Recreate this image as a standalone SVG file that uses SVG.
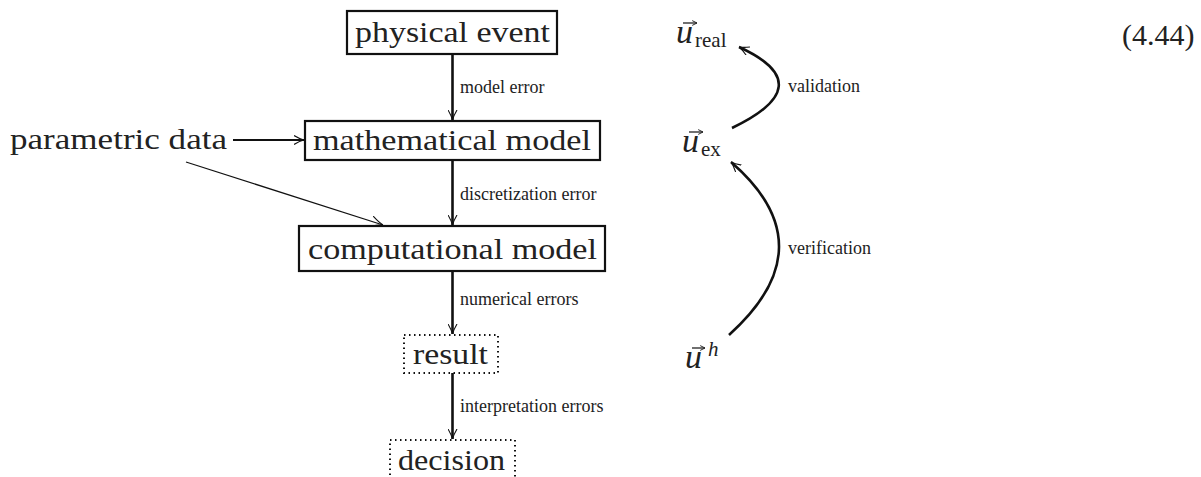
<svg xmlns="http://www.w3.org/2000/svg" width="1201" height="477" viewBox="0 0 1201 477">
  <style>
    .big { font-family: "Liberation Serif", "DejaVu Serif", serif; font-size: 30px; fill: #222; }
    .lbl { font-family: "Liberation Serif", "DejaVu Serif", serif; font-size: 18px; fill: #222; }
    .math { font-family: "Liberation Serif", "DejaVu Serif", serif; font-size: 34px; font-style: italic; fill: #222; }
    .sub { font-family: "Liberation Serif", "DejaVu Serif", serif; font-size: 21px; fill: #222; }
    .solid { fill: #fff; stroke: #111; stroke-width: 2.2; }
    .dotted { fill: #fff; stroke: #111; stroke-width: 2; stroke-dasharray: 1.5 3.5; }
    .edge { fill: none; stroke: #111; stroke-width: 2.6; }
    .thin { fill: none; stroke: #111; stroke-width: 1.2; }
    .accent { fill: none; stroke: #222; stroke-width: 1.3; }
  </style>
  <defs>
    <marker id="vee" viewBox="0 0 10 10" refX="10" refY="5" markerWidth="10" markerHeight="10" markerUnits="userSpaceOnUse" orient="auto">
      <path d="M0,0.5 Q6,4 10,5 Q6,6 0,9.5" fill="none" stroke="#111" stroke-width="1.1"/>
    </marker>
    <marker id="veeThin" viewBox="0 0 10 10" refX="10" refY="5" markerWidth="12" markerHeight="12" markerUnits="userSpaceOnUse" orient="auto">
      <path d="M0,0.5 Q6,4 10,5 Q6,6 0,9.5" fill="none" stroke="#111" stroke-width="1"/>
    </marker>
    <marker id="tip" viewBox="0 0 10 10" refX="9" refY="5" markerWidth="6" markerHeight="6" markerUnits="userSpaceOnUse" orient="auto">
      <path d="M1,1 L9,5 L1,9" fill="none" stroke="#222" stroke-width="1.6"/>
    </marker>
  </defs>

  <!-- connectors -->
  <g id="connectors">
    <line class="edge" x1="452.5" y1="54" x2="452.5" y2="120" marker-end="url(#vee)"/>
    <line class="edge" x1="452.5" y1="160" x2="452.5" y2="225" marker-end="url(#vee)"/>
    <line class="edge" x1="452.5" y1="271" x2="452.5" y2="334" marker-end="url(#vee)"/>
    <line class="edge" x1="452.5" y1="373" x2="452.5" y2="439" marker-end="url(#vee)"/>
    <line fill="none" stroke="#111" stroke-width="2" x1="233" y1="140" x2="304" y2="140" marker-end="url(#vee)"/>
    <line class="thin" x1="186" y1="162" x2="383" y2="225" marker-end="url(#veeThin)"/>
    <path class="edge" d="M732,128 Q822,85 739,47" marker-end="url(#vee)"/>
    <path class="edge" d="M729,335 Q828,246 731,162" marker-end="url(#vee)"/>

    <text class="lbl" x="460" y="93">model error</text>
    <text class="lbl" x="460" y="200">discretization error</text>
    <text class="lbl" x="460" y="305">numerical errors</text>
    <text class="lbl" x="460" y="412">interpretation errors</text>
    <text class="lbl" x="788" y="92">validation</text>
    <text class="lbl" x="788" y="254">verification</text>
  </g>

  <g id="physical-event">
    <rect class="solid" x="347" y="11" width="210" height="43"/>
    <text class="big" x="355" y="42" textLength="195" lengthAdjust="spacingAndGlyphs">physical event</text>
  </g>
  <g id="mathematical-model">
    <rect class="solid" x="305" y="121" width="295" height="39"/>
    <text class="big" x="313" y="150" textLength="278" lengthAdjust="spacingAndGlyphs">mathematical model</text>
  </g>
  <g id="parametric-data">
    <text class="big" x="10" y="149" textLength="217" lengthAdjust="spacingAndGlyphs">parametric data</text>
  </g>
  <g id="computational-model">
    <rect class="solid" x="299" y="226" width="306" height="45"/>
    <text class="big" x="308" y="259" textLength="289" lengthAdjust="spacingAndGlyphs">computational model</text>
  </g>
  <g id="result">
    <rect class="dotted" x="404" y="335" width="94" height="38"/>
    <text class="big" x="413" y="364" textLength="75" lengthAdjust="spacingAndGlyphs">result</text>
  </g>
  <g id="decision">
    <rect class="dotted" x="390" y="440" width="125" height="45"/>
    <text class="big" x="398" y="470" textLength="107" lengthAdjust="spacingAndGlyphs">decision</text>
  </g>

  <!-- vector accents over u -->
  <g id="u-real">
    <text class="math" x="676" y="43">u</text>
    <line class="accent" x1="683" y1="23" x2="697" y2="23" marker-end="url(#tip)"/>
    <text class="sub" x="695" y="47">real</text>
  </g>
  <g id="u-ex">
    <text class="math" x="682" y="152">u</text>
    <line class="accent" x1="689" y1="132" x2="703" y2="132" marker-end="url(#tip)"/>
    <text class="sub" x="701" y="156">ex</text>
  </g>
  <g id="u-h">
    <text class="math" x="685" y="368">u</text>
    <line class="accent" x1="692" y1="348" x2="705" y2="348" marker-end="url(#tip)"/>
    <text class="sub" x="708" y="356" font-style="italic">h</text>
  </g>

  <g id="equation-number">
    <text class="big" x="1122" y="45">(4.44)</text>
  </g>
</svg>
